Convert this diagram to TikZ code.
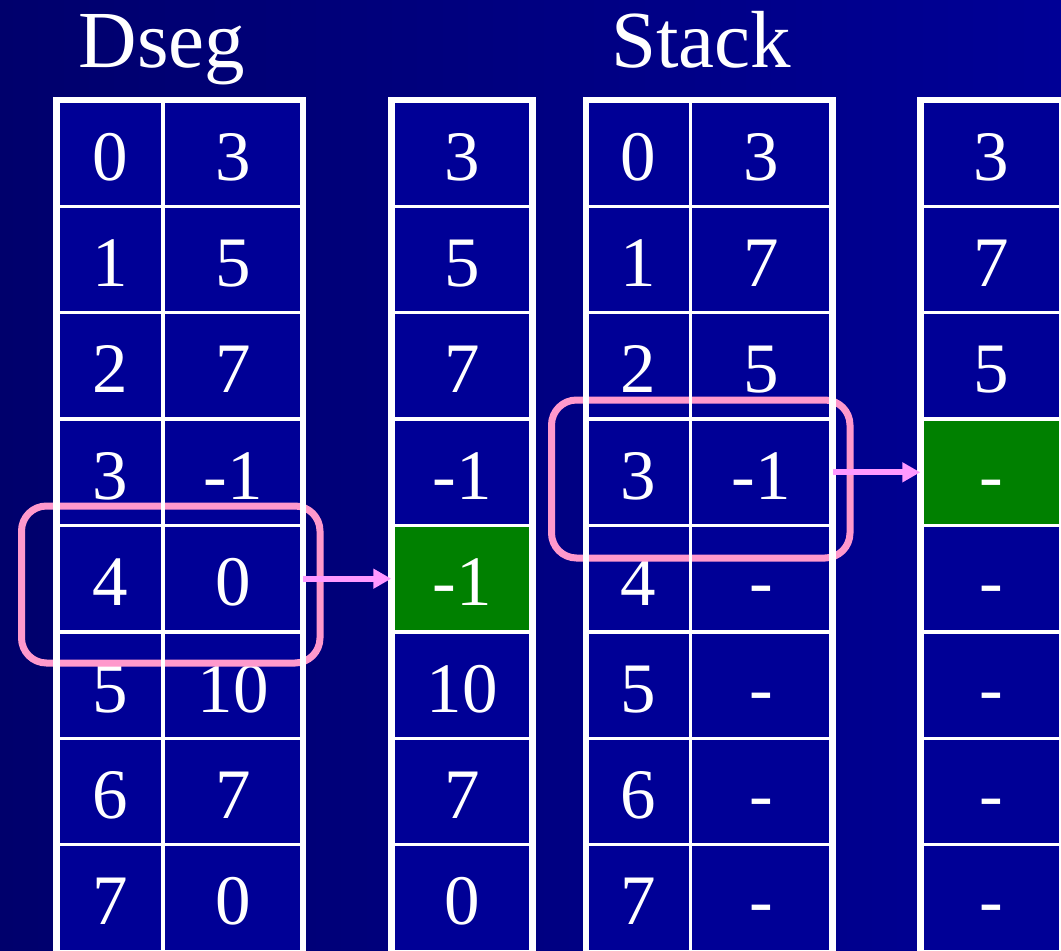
\documentclass[tikz,border=0pt]{standalone}
\usepackage{fontspec}
\setmainfont{Liberation Serif}
\usetikzlibrary{arrows.meta}
\definecolor{bgL}{RGB}{0,0,108}
\definecolor{bgR}{RGB}{0,0,150}
\definecolor{cellblue}{RGB}{0,0,150}
\definecolor{cellgreen}{RGB}{0,128,0}
\definecolor{boxpink}{RGB}{255,153,204}
\definecolor{arrowpink}{RGB}{255,153,255}
\tikzset{
  cell/.style={fill=cellblue, inner sep=0pt, text=white,
    font=\fontsize{71}{71}\selectfont, text height=54pt, text depth=0pt,
    minimum height=106.375pt},
  hilite/.style={fill=cellgreen},
  plain/.style={},
  gridline/.style={draw=white, line width=3pt},
  frame/.style={draw=white, line width=6.5pt},
  pinkbox/.style={draw=boxpink, line width=7pt, rounded corners=25pt, inner sep=0pt},
  arr/.style={draw=arrowpink, line width=6pt, -{Triangle[length=18pt,width=19pt]}},
  title/.style={text=white, font=\fontsize{81}{81}\selectfont, anchor=base, inner sep=0pt}
}
\begin{document}
\begin{tikzpicture}[x=1pt,y=-1pt]
  \fill[left color=bgL, right color=bgR] (0,0) rectangle (1061,951);
  \useasboundingbox (0,0) rectangle (1061,951);

  \node[title] (t1) at (162,67) {Dseg};
  \node[title] (t2) at (701,67) {Stack};

  % Table 1 (Dseg)
  \foreach \p/\q [count=\r] in {0/3,1/5,2/7,3/-1,4/0,5/10,6/7,7/0} {
    \node[cell, minimum width=106.5pt] (a\r1) at (109.75,{100+(\r-0.5)*106.375}) {\p};
    \node[cell, minimum width=140pt] (a\r2) at (233,{100+(\r-0.5)*106.375}) {\q};
  }
  % Table 2
  \foreach \v/\s [count=\r] in {3/plain,5/plain,7/plain,-1/plain,-1/hilite,10/plain,7/plain,0/plain} {
    \node[cell, \s, minimum width=141pt] (b\r) at (462,{100+(\r-0.5)*106.375}) {\v};
  }
  % Table 3 (Stack)
  \foreach \p/\q [count=\r] in {0/3,1/7,2/5,3/-1,4/-,5/-,6/-,7/-} {
    \node[cell, minimum width=104.5pt] (c\r1) at (638.25,{100+(\r-0.5)*106.375}) {\p};
    \node[cell, minimum width=142pt] (c\r2) at (761.5,{100+(\r-0.5)*106.375}) {\q};
  }
  % Table 4
  \foreach \v/\s [count=\r] in {3/plain,7/plain,5/plain,-/hilite,-/plain,-/plain,-/plain,-/plain} {
    \node[cell, \s, minimum width=141.5pt] (d\r) at (991.25,{100+(\r-0.5)*106.375}) {\v};
  }

  % highlight boxes
  \node[pinkbox, minimum width=298.5pt, minimum height=157pt] (box1) at (170.75,584.5) {};
  \node[pinkbox, minimum width=298.5pt, minimum height=158pt] (box2) at (700.75,479) {};

  % grid lines
  \foreach \r in {1,...,8} {
    \draw[gridline] (a\r1.north west) rectangle (a\r1.south east);
    \draw[gridline] (a\r2.north west) rectangle (a\r2.south east);
    \draw[gridline] (b\r.north west) rectangle (b\r.south east);
    \draw[gridline] (c\r1.north west) rectangle (c\r1.south east);
    \draw[gridline] (c\r2.north west) rectangle (c\r2.south east);
    \draw[gridline] (d\r.north west) rectangle (d\r.south east);
  }
  % outer frames
  \draw[frame] (a11.north west) rectangle ([yshift=-2.5pt]a82.south east);
  \draw[frame] (b1.north west) rectangle ([yshift=-2.5pt]b8.south east);
  \draw[frame] (c11.north west) rectangle ([yshift=-2.5pt]c82.south east);
  \draw[frame] (d1.north west) rectangle ([yshift=-2.5pt]d8.south east);

  % arrows
  \draw[arr] (a52.east) -- (b5.west);
  \draw[arr] (c42.east) -- (d4.west);
\end{tikzpicture}
\end{document}
